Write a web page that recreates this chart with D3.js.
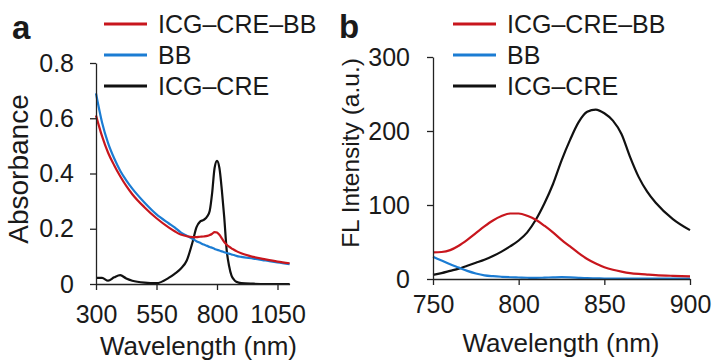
<!DOCTYPE html>
<html>
<head>
<meta charset="utf-8">
<script src="https://cdn.jsdelivr.net/npm/d3@7"></script>
<style>
  body { margin: 0; background: #fff; }
  text { font-family: "Liberation Sans", Arial, sans-serif; fill: #1a1a1a; }
  .domain, .tick line { stroke: #222; stroke-width: 1.3; }
</style>
</head>
<body>
<div id="chart"></div>
<script>
// series names + colours (shared by both panels)
var seriesNames = ["ICG\u2013CRE\u2013BB", "BB", "ICG\u2013CRE"];
var seriesColors = ["#c8161d", "#1b7cd3", "#111111"];

// panel a: absorbance spectra
var absWl = [300, 325, 350, 375, 400, 425, 450, 500, 550, 600, 625, 650, 675, 700, 715, 730, 745, 760, 770, 780,
             790, 800, 810, 820, 830, 840, 850, 860, 870, 880, 900, 950, 1000, 1050, 1100];
var absIcgCreBB = [0.61, 0.535, 0.475, 0.43, 0.39, 0.355, 0.325, 0.278, 0.238, 0.205, 0.191, 0.179, 0.173, 0.17, 0.17, 0.171, 0.172, 0.174, 0.177, 0.182,
                   0.188, 0.186, 0.178, 0.165, 0.152, 0.142, 0.135, 0.129, 0.124, 0.119, 0.111, 0.098, 0.089, 0.081, 0.075];
var absBB = [0.69, 0.585, 0.51, 0.455, 0.41, 0.375, 0.345, 0.295, 0.252, 0.22, 0.205, 0.187, 0.175, 0.163, 0.155, 0.149, 0.143, 0.138, 0.134, 0.131,
             0.127, 0.124, 0.121, 0.118, 0.115, 0.112, 0.11, 0.107, 0.105, 0.102, 0.098, 0.092, 0.085, 0.078, 0.072];
var absIcgCre = [0.022, 0.022, 0.012, 0.024, 0.032, 0.02, 0.012, 0.005, 0.003, 0.022, 0.037, 0.055, 0.085, 0.155, 0.205, 0.226, 0.232, 0.245, 0.265, 0.33,
                 0.42, 0.446, 0.42, 0.34, 0.24, 0.123, 0.065, 0.03, 0.016, 0.008, 0.003, 0.001, 0, 0, 0];
var absXTicks = [300, 550, 800, 1050];
var absYTicks = [0, 0.2, 0.4, 0.6, 0.8];

// panel b: fluorescence spectra
var flWl = [750, 755, 760, 765, 770, 775, 780, 785, 790, 795, 800, 805, 810, 815, 820, 825, 830, 835, 840, 845,
            850, 855, 860, 865, 870, 875, 880, 890, 900];
var flIcgCreBB = [36, 36.5, 39, 45, 53, 62, 71, 79, 85, 88.5, 88.5, 85.5, 80, 72, 63, 53, 44, 35, 27, 21,
                  16, 12.5, 10, 8, 6.8, 6, 5.3, 4.3, 3.5];
var flBB = [30, 25, 20, 15.5, 11, 7.5, 5, 3.8, 3, 2.4, 2, 1.7, 1.5, 1.8, 2.2, 2.5, 2.2, 1.6, 1.1, 0.9,
            0.7, 0.6, 0.5, 0.5, 0.5, 0.5, 0.5, 0.5, 0.5];
var flIcgCre = [5.5, 8, 11, 14, 18, 22, 26, 31, 37, 44, 52, 63, 80, 102, 128, 160, 188, 212, 226, 229,
                224, 214, 196, 165, 138, 118, 103, 81, 66];
var flXTicks = [750, 800, 850, 900];
var flYTicks = [0, 100, 200, 300];

var svg = d3.select("#chart").append("svg")
    .attr("width", 713)
    .attr("height", 360);

function drawPanel(p) {
    var g = svg.append("g");

    var line = function(ys) {
        return d3.line()
            .x(function(d, i) { return p.x(p.wl[i]); })
            .y(function(d) { return p.y(d); })
            .curve(d3.curveMonotoneX)(ys);
    };

    // draw in order black, blue, red so red ends up on top like the original
    [2, 1, 0].forEach(function(k) {
        g.append("path")
            .attr("d", line(p.series[k]))
            .attr("fill", "none")
            .attr("stroke", seriesColors[k])
            .attr("stroke-width", 2.2);
    });

    g.append("g")
        .attr("transform", "translate(0," + p.y(0) + ")")
        .call(d3.axisBottom(p.x).tickValues(p.xTicks).tickSize(6).tickSizeOuter(0).tickPadding(p.xPad)
              .tickFormat(d3.format("d")));
    g.append("g")
        .attr("transform", "translate(" + p.x(p.wl[0]) + ",0)")
        .call(d3.axisLeft(p.y).tickValues(p.yTicks).tickSize(6).tickSizeOuter(0).tickPadding(p.yPad)
              .tickFormat(p.yFormat));
    g.selectAll(".tick text")
        .attr("font-size", "25px")
        .attr("font-family", "Liberation Sans, Arial, sans-serif")
        .attr("fill", "#1a1a1a");

    g.append("text")
        .attr("x", p.xTitle[0])
        .attr("y", p.xTitle[1])
        .attr("text-anchor", "middle")
        .attr("font-size", "26px")
        .text("Wavelength (nm)");

    g.append("text")
        .attr("transform", "translate(" + p.yTitle[0] + "," + p.yTitle[1] + ") rotate(-90)")
        .attr("text-anchor", "middle")
        .attr("font-size", p.yTitleSize)
        .text(p.yLabel);

    g.append("text")
        .attr("x", p.tag[0])
        .attr("y", p.tag[1])
        .attr("font-size", "33px")
        .attr("font-weight", "bold")
        .text(p.letter);

    // legend
    var leg = g.selectAll(".leg")
        .data(seriesNames)
        .enter()
        .append("g")
        .attr("transform", function(d, i) { return "translate(" + p.legX + "," + (p.legY + i * 31) + ")"; });
    leg.append("line")
        .attr("x1", 0)
        .attr("x2", 43)
        .attr("stroke", function(d, i) { return seriesColors[i]; })
        .attr("stroke-width", 3);
    leg.append("text")
        .attr("x", 54)
        .attr("dy", "0.36em")
        .attr("font-size", "25px")
        .text(function(d) { return d; });
}

drawPanel({
    wl: absWl,
    series: [absIcgCreBB, absBB, absIcgCre],
    x: d3.scaleLinear().domain([300, 1100]).range([96, 289.6]),
    y: d3.scaleLinear().domain([0, 0.8]).range([284, 63]),
    xTicks: absXTicks,
    yTicks: absYTicks,
    xPad: 15,
    yPad: 16,
    yFormat: function(d) { return d === 0 ? "0" : d3.format(".1f")(d); },
    xTitle: [198.5, 355],
    yTitle: [28, 169],
    yTitleSize: "28px",
    yLabel: "Absorbance",
    tag: [12, 39],
    letter: "a",
    legX: 104,
    legY: 24
});

drawPanel({
    wl: flWl,
    series: [flIcgCreBB, flBB, flIcgCre],
    x: d3.scaleLinear().domain([750, 900]).range([433, 690]),
    y: d3.scaleLinear().domain([0, 300]).range([279, 57]),
    xTicks: flXTicks,
    yTicks: flYTicks,
    xPad: 10,
    yPad: 17,
    yFormat: d3.format("d"),
    xTitle: [561, 352],
    yTitle: [359, 153],
    yTitleSize: "24.5px",
    yLabel: "FL Intensity (a.u.)",
    tag: [339, 38],
    letter: "b",
    legX: 453,
    legY: 24
});
</script>
</body>
</html>
